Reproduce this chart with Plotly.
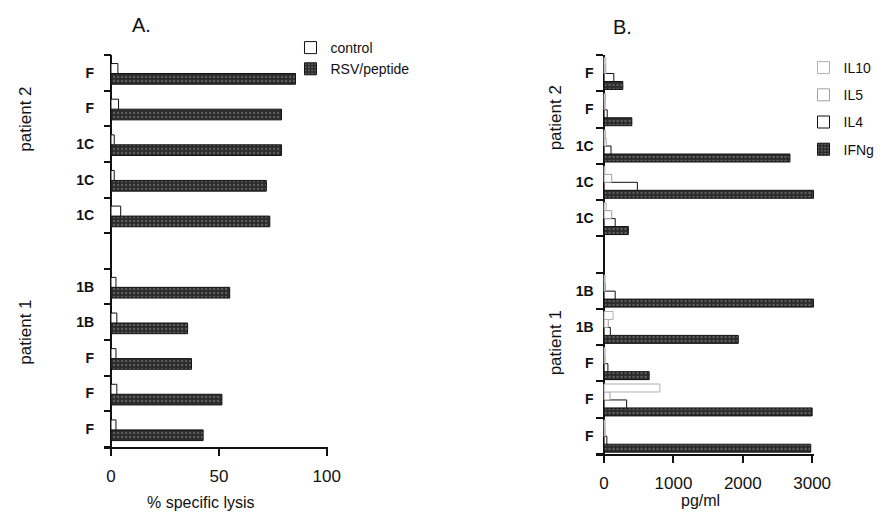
import plotly.graph_objects as go

# ---------------- data (rows listed top -> bottom) ----------------
row_labels = ["F", "F", "1C", "1C", "1C", "", "1B", "1B", "F", "F", "F"]

# Panel A: % specific lysis
control = [3.2, 3.5, 1.5, 1.5, 4.5, None, 2.3, 2.7, 2.3, 2.7, 2.3]
rsv_peptide = [85.5, 79, 79, 72, 73.6, None, 55, 35.5, 37.3, 51.4, 42.7]

# Panel B: cytokines, pg/ml
ifng = [270, 400, 2680, 3020, 350, None, 3020, 1935, 650, 3000, 2980]
il4 = [140, 45, 100, 480, 160, None, 160, 90, 55, 325, 40]
il5 = [25, 15, 30, 110, 110, None, 20, 60, 15, 85, 15]
il10 = [25, 20, 20, 10, 30, None, 15, 130, 15, 805, 15]

xticks_a = [0, 50, 100]
xticks_b = [0, 1000, 2000, 3000]

# ---------------- layout helpers ----------------
W, H = 890, 514
FONT = "Liberation Sans, Arial, Helvetica, sans-serif"
INK = "#111111"


def px(x):
    return x / W


def py(y):
    return 1 - y / H


n = len(row_labels)
ypos = [n - 1 - i for i in range(n)]
slot_edges = [k - 0.5 for k in range(n + 1)]

dark_marker = dict(
    color="#2b2b2b",
    line=dict(color=INK, width=1),
    pattern=dict(shape=".", fgcolor="#9a9a9a", bgcolor="#2b2b2b", size=4, solidity=0.25),
)

fig = go.Figure()

# ---- Panel A ----
fig.add_trace(go.Bar(
    x=rsv_peptide, y=ypos, orientation="h", name="RSV/peptide",
    offset=-0.32, width=0.30, marker=dark_marker,
    xaxis="x", yaxis="y", legend="legend", legendgroup="rsv", legendrank=2,
))
fig.add_trace(go.Bar(
    x=control, y=ypos, orientation="h", name="control",
    offset=-0.02, width=0.28,
    marker=dict(color="white", line=dict(color=INK, width=1)),
    xaxis="x", yaxis="y", legend="legend", legendgroup="ctrl", legendrank=1,
))

# ---- Panel B ----
fig.add_trace(go.Bar(
    x=ifng, y=ypos, orientation="h", name="IFNg",
    offset=-0.45, width=0.22, marker=dark_marker,
    xaxis="x2", yaxis="y2", legend="legend2", legendgroup="ifng", legendrank=4,
))
fig.add_trace(go.Bar(
    x=il4, y=ypos, orientation="h", name="IL4",
    offset=-0.23, width=0.22,
    marker=dict(color="white", line=dict(color=INK, width=1)),
    xaxis="x2", yaxis="y2", legend="legend2", legendgroup="il4", legendrank=3,
))
fig.add_trace(go.Bar(
    x=il5, y=ypos, orientation="h", name="IL5",
    offset=-0.01, width=0.22,
    marker=dict(color="white", line=dict(color="#a0a0a0", width=1)),
    xaxis="x2", yaxis="y2", legend="legend2", legendgroup="il5", legendrank=2,
))
fig.add_trace(go.Bar(
    x=il10, y=ypos, orientation="h", name="IL10",
    offset=0.21, width=0.22,
    marker=dict(color="white", line=dict(color="#b0b0b0", width=1)),
    xaxis="x2", yaxis="y2", legend="legend2", legendgroup="il10", legendrank=1,
))

common_x = dict(
    showgrid=False, showline=True, linecolor=INK, linewidth=2,
    ticks="outside", ticklen=7, tickwidth=2, tickcolor=INK,
    zeroline=True, zerolinecolor=INK, zerolinewidth=2,
    tickfont=dict(family=FONT, size=17, color=INK),
    ticklabelstandoff=6, tickmode="array",
)
common_y = dict(
    showgrid=False, showline=False, zeroline=False,
    range=[-0.5, n - 0.5], tickmode="array", tickvals=ypos, ticktext=row_labels,
    ticks="", tickfont=dict(family=FONT, size=14, color=INK, weight="bold"),
    minor=dict(tickmode="array", tickvals=slot_edges, ticks="inside",
               ticklen=7, tickwidth=2, tickcolor=INK, showgrid=False),
)

fig.update_layout(
    width=W, height=H,
    margin=dict(l=0, r=0, t=0, b=0),
    paper_bgcolor="white", plot_bgcolor="white",
    barmode="overlay",
    font=dict(family=FONT, color=INK),
    xaxis=dict(domain=[px(98), px(326)], range=[-3.18, 100.45],
               tickvals=xticks_a, anchor="y", **common_x),
    yaxis=dict(domain=[py(439), py(47)], anchor="x", ticklabelstandoff=9, **common_y),
    xaxis2=dict(domain=[px(599), px(822)], range=[-123, 3031],
                tickvals=xticks_b, anchor="y2", **common_x),
    yaxis2=dict(domain=[py(446), py(47)], anchor="x2", ticklabelstandoff=1, **common_y),
    legend=dict(x=px(288), y=py(24), xanchor="left", yanchor="top",
                font=dict(family=FONT, size=14, color=INK),
                bgcolor="rgba(0,0,0,0)", itemwidth=30, tracegroupgap=0,
                traceorder="grouped"),
    legend2=dict(x=px(811), y=py(44), xanchor="left", yanchor="top",
                 font=dict(family=FONT, size=14, color=INK),
                 bgcolor="rgba(0,0,0,0)", itemwidth=30, tracegroupgap=6,
                 traceorder="grouped"),
    showlegend=True,
)

annotations = [
    dict(text="A.", x=px(136), y=py(17), font=dict(size=20)),
    dict(text="B.", x=px(626), y=py(19), font=dict(size=20)),
    dict(text="patient 2", x=px(17), y=py(111), textangle=-90, font=dict(size=17)),
    dict(text="patient 1", x=px(17), y=py(324), textangle=-90, font=dict(size=17)),
    dict(text="patient 2", x=px(558), y=py(110), textangle=-90, font=dict(size=17)),
    dict(text="patient 1", x=px(558), y=py(335), textangle=-90, font=dict(size=17)),
    dict(text="% specific lysis", x=px(197), y=py(494), font=dict(size=16)),
    dict(text="pg/ml", x=px(706), y=py(492), font=dict(size=16)),
]
for a in annotations:
    a.update(xref="paper", yref="paper", showarrow=False,
             xanchor="center", yanchor="middle")
    a["font"].update(family=FONT, color=INK)
fig.update_layout(annotations=annotations)

fig.write_html("out.html")
